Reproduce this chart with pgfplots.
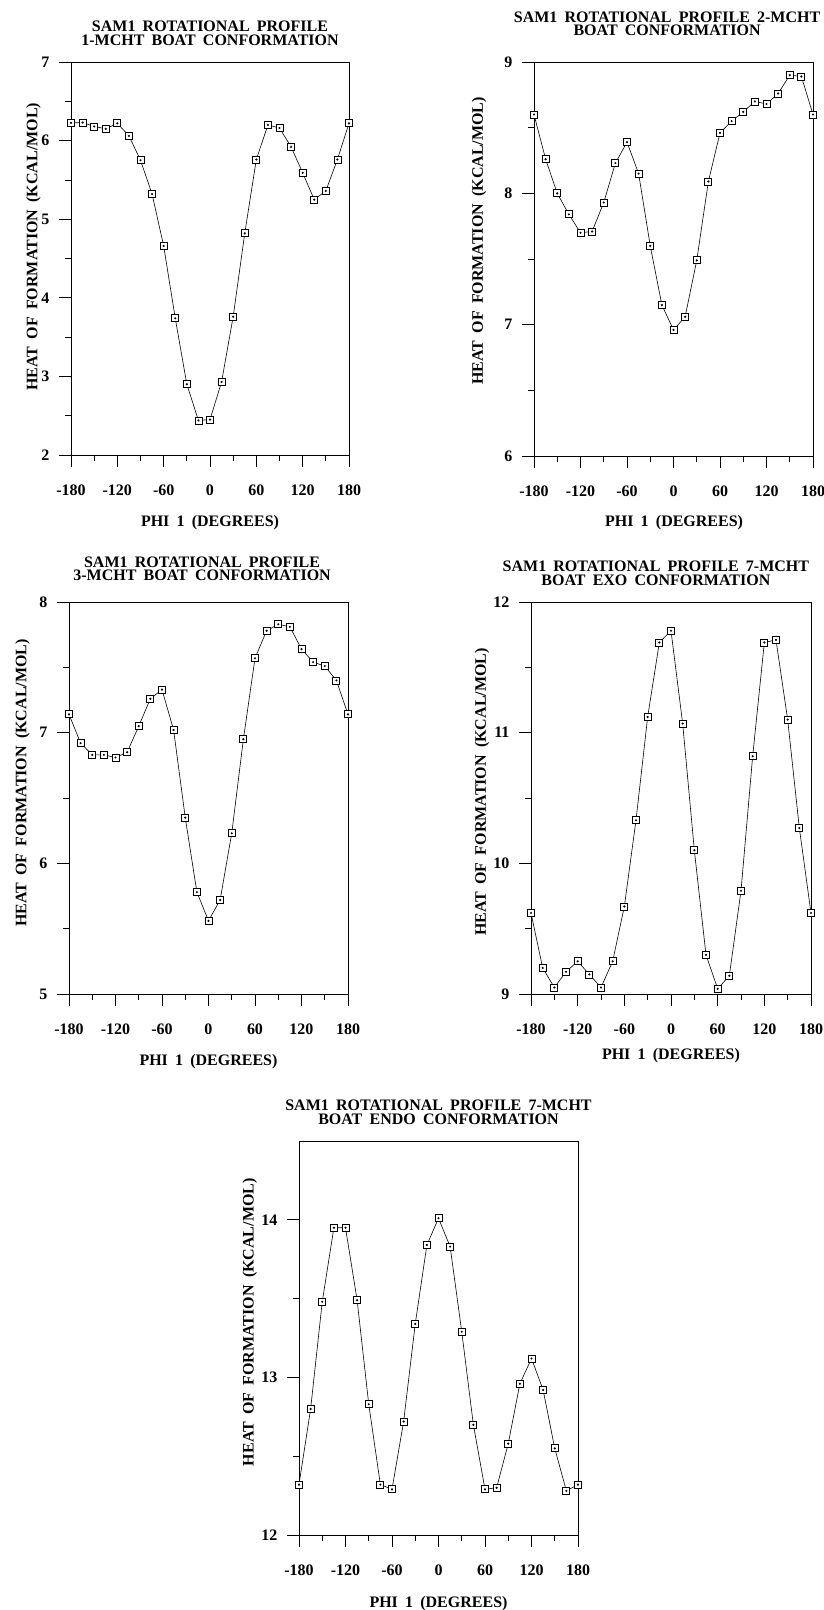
\documentclass[border=0pt]{standalone}
\usepackage{fontspec}
\setmainfont{Liberation Serif}[WordSpace=1.8]
\usepackage{pgfplots}
\pgfplotsset{compat=1.18}

\pgfdeclareplotmark{sqdot}{%
  \pgfpathrectangle{\pgfpoint{-3.5pt}{-3.5pt}}{\pgfpoint{7pt}{7pt}}%
  \pgfsetfillcolor{white}\pgfusepathqfillstroke
  \pgfpathcircle{\pgfpointorigin}{1.2pt}%
  \pgfsetfillcolor{black}\pgfusepathqfill}

\newcommand{\ff}{\fontsize{16}{13.3}\selectfont\bfseries}

\pgfplotsset{
  myline/.style={black, line width=0.6pt, mark=sqdot, mark options={solid, line width=0.8pt, draw=black}},
  panel/.style={
  scale only axis, width=279pt, height=393pt,
  xmin=-180, xmax=180,
  xtick={-180,-120,...,180},
  xticklabels={-180,-120,-60,0,60,120,180},
  minor xtick={-150,-90,...,150},
  minor y tick num=1,
  xtick pos=left, ytick pos=left,
  xtick align=outside, ytick align=outside,
  major tick length=12pt, minor tick length=6pt,
  xtick style={draw=black, line width=0.8pt},
  ytick style={draw=black, line width=0.8pt},
  axis line style={line width=0.8pt},
  /pgf/number format/assume math mode=true,
  tick label style={font=\ff},
  xticklabel style={yshift=-14pt},
  yticklabel style={xshift=-6pt},
  label style={font=\ff},
  title style={font=\ff, align=center, anchor=center},
  xlabel={PHI 1 (DEGREES)},
  ylabel={HEAT OF FORMATION (KCAL/MOL)},
}}

\begin{document}
\begin{tikzpicture}

% Panel 1
\begin{axis}[panel, at={(71pt,-455pt)}, anchor=south west, width=278pt, height=393pt,
  ymin=2, ymax=7, ytick={2,3,4,5,6,7},
  title={SAM1 ROTATIONAL PROFILE\\1-MCHT BOAT CONFORMATION},
  title style={at={(axis description cs:0.5,1.058)}},
  xlabel style={at={(axis description cs:0.5,-0.172)}, anchor=center},
  ylabel style={at={(axis description cs:-0.135,0.53)}, anchor=center}]
\addplot[myline] coordinates {(-180,6.225) (-165,6.23) (-150,6.18) (-135,6.15) (-120,6.22) (-105,6.06) (-90,5.75) (-75,5.32) (-60,4.66) (-45,3.74) (-30,2.90) (-15,2.44) (0,2.45) (15,2.93) (30,3.76) (45,4.82) (60,5.76) (75,6.20) (90,6.16) (105,5.92) (120,5.59) (135,5.25) (150,5.36) (165,5.76) (180,6.22)};
\end{axis}

% Panel 2
\begin{axis}[panel, at={(534pt,-456pt)}, anchor=south west, height=394pt,
  ymin=6, ymax=9, ytick={6,7,8,9},
  title={SAM1 ROTATIONAL PROFILE 2-MCHT\\BOAT CONFORMATION},
  title style={at={(axis description cs:0.477,1.082)}},
  xlabel style={at={(axis description cs:0.502,-0.170)}, anchor=center},
  ylabel style={at={(axis description cs:-0.197,0.546)}, anchor=center}]
\addplot[myline] coordinates {(-180,8.60) (-165,8.26) (-150,8.00) (-135,7.84) (-120,7.70) (-105,7.71) (-90,7.93) (-75,8.23) (-60,8.39) (-45,8.15) (-30,7.60) (-15,7.15) (0,6.96) (15,7.06) (30,7.49) (45,8.09) (60,8.46) (75,8.55) (90,8.62) (105,8.70) (120,8.68) (135,8.76) (150,8.90) (165,8.89) (180,8.60)};
\end{axis}

% Panel 3
\begin{axis}[panel, at={(69pt,-994pt)}, anchor=south west, height=392pt,
  ymin=5, ymax=8, ytick={5,6,7,8},
  title={SAM1 ROTATIONAL PROFILE\\3-MCHT BOAT CONFORMATION},
  title style={at={(axis description cs:0.477,1.070)}},
  xlabel style={at={(axis description cs:0.5,-0.172)}, anchor=center},
  ylabel style={at={(axis description cs:-0.167,0.538)}, anchor=center}]
\addplot[myline] coordinates {(-180,7.14) (-165,6.92) (-150,6.83) (-135,6.83) (-120,6.81) (-105,6.85) (-90,7.05) (-75,7.26) (-60,7.33) (-45,7.02) (-30,6.35) (-15,5.78) (0,5.56) (15,5.72) (30,6.23) (45,6.95) (60,7.57) (75,7.78) (90,7.83) (105,7.81) (120,7.64) (135,7.54) (150,7.51) (165,7.40) (180,7.14)};
\end{axis}

% Panel 4
\begin{axis}[panel, at={(531pt,-994pt)}, anchor=south west, width=280pt, height=392pt,
  ymin=9, ymax=12, ytick={9,10,11,12},
  title={SAM1 ROTATIONAL PROFILE 7-MCHT\\BOAT EXO CONFORMATION},
  title style={at={(axis description cs:0.446,1.058)}},
  xlabel style={at={(axis description cs:0.5,-0.158)}, anchor=center},
  ylabel style={at={(axis description cs:-0.175,0.515)}, anchor=center}]
\addplot[myline] coordinates {(-180,9.62) (-165,9.20) (-150,9.05) (-135,9.17) (-120,9.25) (-105,9.15) (-90,9.05) (-75,9.25) (-60,9.67) (-45,10.33) (-30,11.12) (-15,11.69) (0,11.78) (15,11.07) (30,10.10) (45,9.30) (60,9.04) (75,9.14) (90,9.79) (105,10.82) (120,11.69) (135,11.71) (150,11.10) (165,10.27) (180,9.62)};
\end{axis}

% Panel 5
\begin{axis}[panel, at={(299pt,-1535pt)}, anchor=south west, height=394pt,
  ymin=12, ymax=14.5, ytick={12,13,14},
  title={SAM1 ROTATIONAL PROFILE 7-MCHT\\BOAT ENDO CONFORMATION},
  title style={at={(axis description cs:0.5,1.058)}},
  xlabel style={at={(axis description cs:0.5,-0.175)}, anchor=center},
  ylabel style={at={(axis description cs:-0.176,0.54)}, anchor=center}]
\addplot[myline] coordinates {(-180,12.32) (-165,12.80) (-150,13.48) (-135,13.95) (-120,13.95) (-105,13.49) (-90,12.83) (-75,12.32) (-60,12.29) (-45,12.72) (-30,13.34) (-15,13.84) (0,14.01) (15,13.83) (30,13.29) (45,12.70) (60,12.29) (75,12.30) (90,12.58) (105,12.96) (120,13.12) (135,12.92) (150,12.55) (165,12.28) (180,12.32)};
\end{axis}
\pgfresetboundingbox
\path[use as bounding box] (0pt,0pt) rectangle (823pt,-1610pt);
\end{tikzpicture}
\end{document}
